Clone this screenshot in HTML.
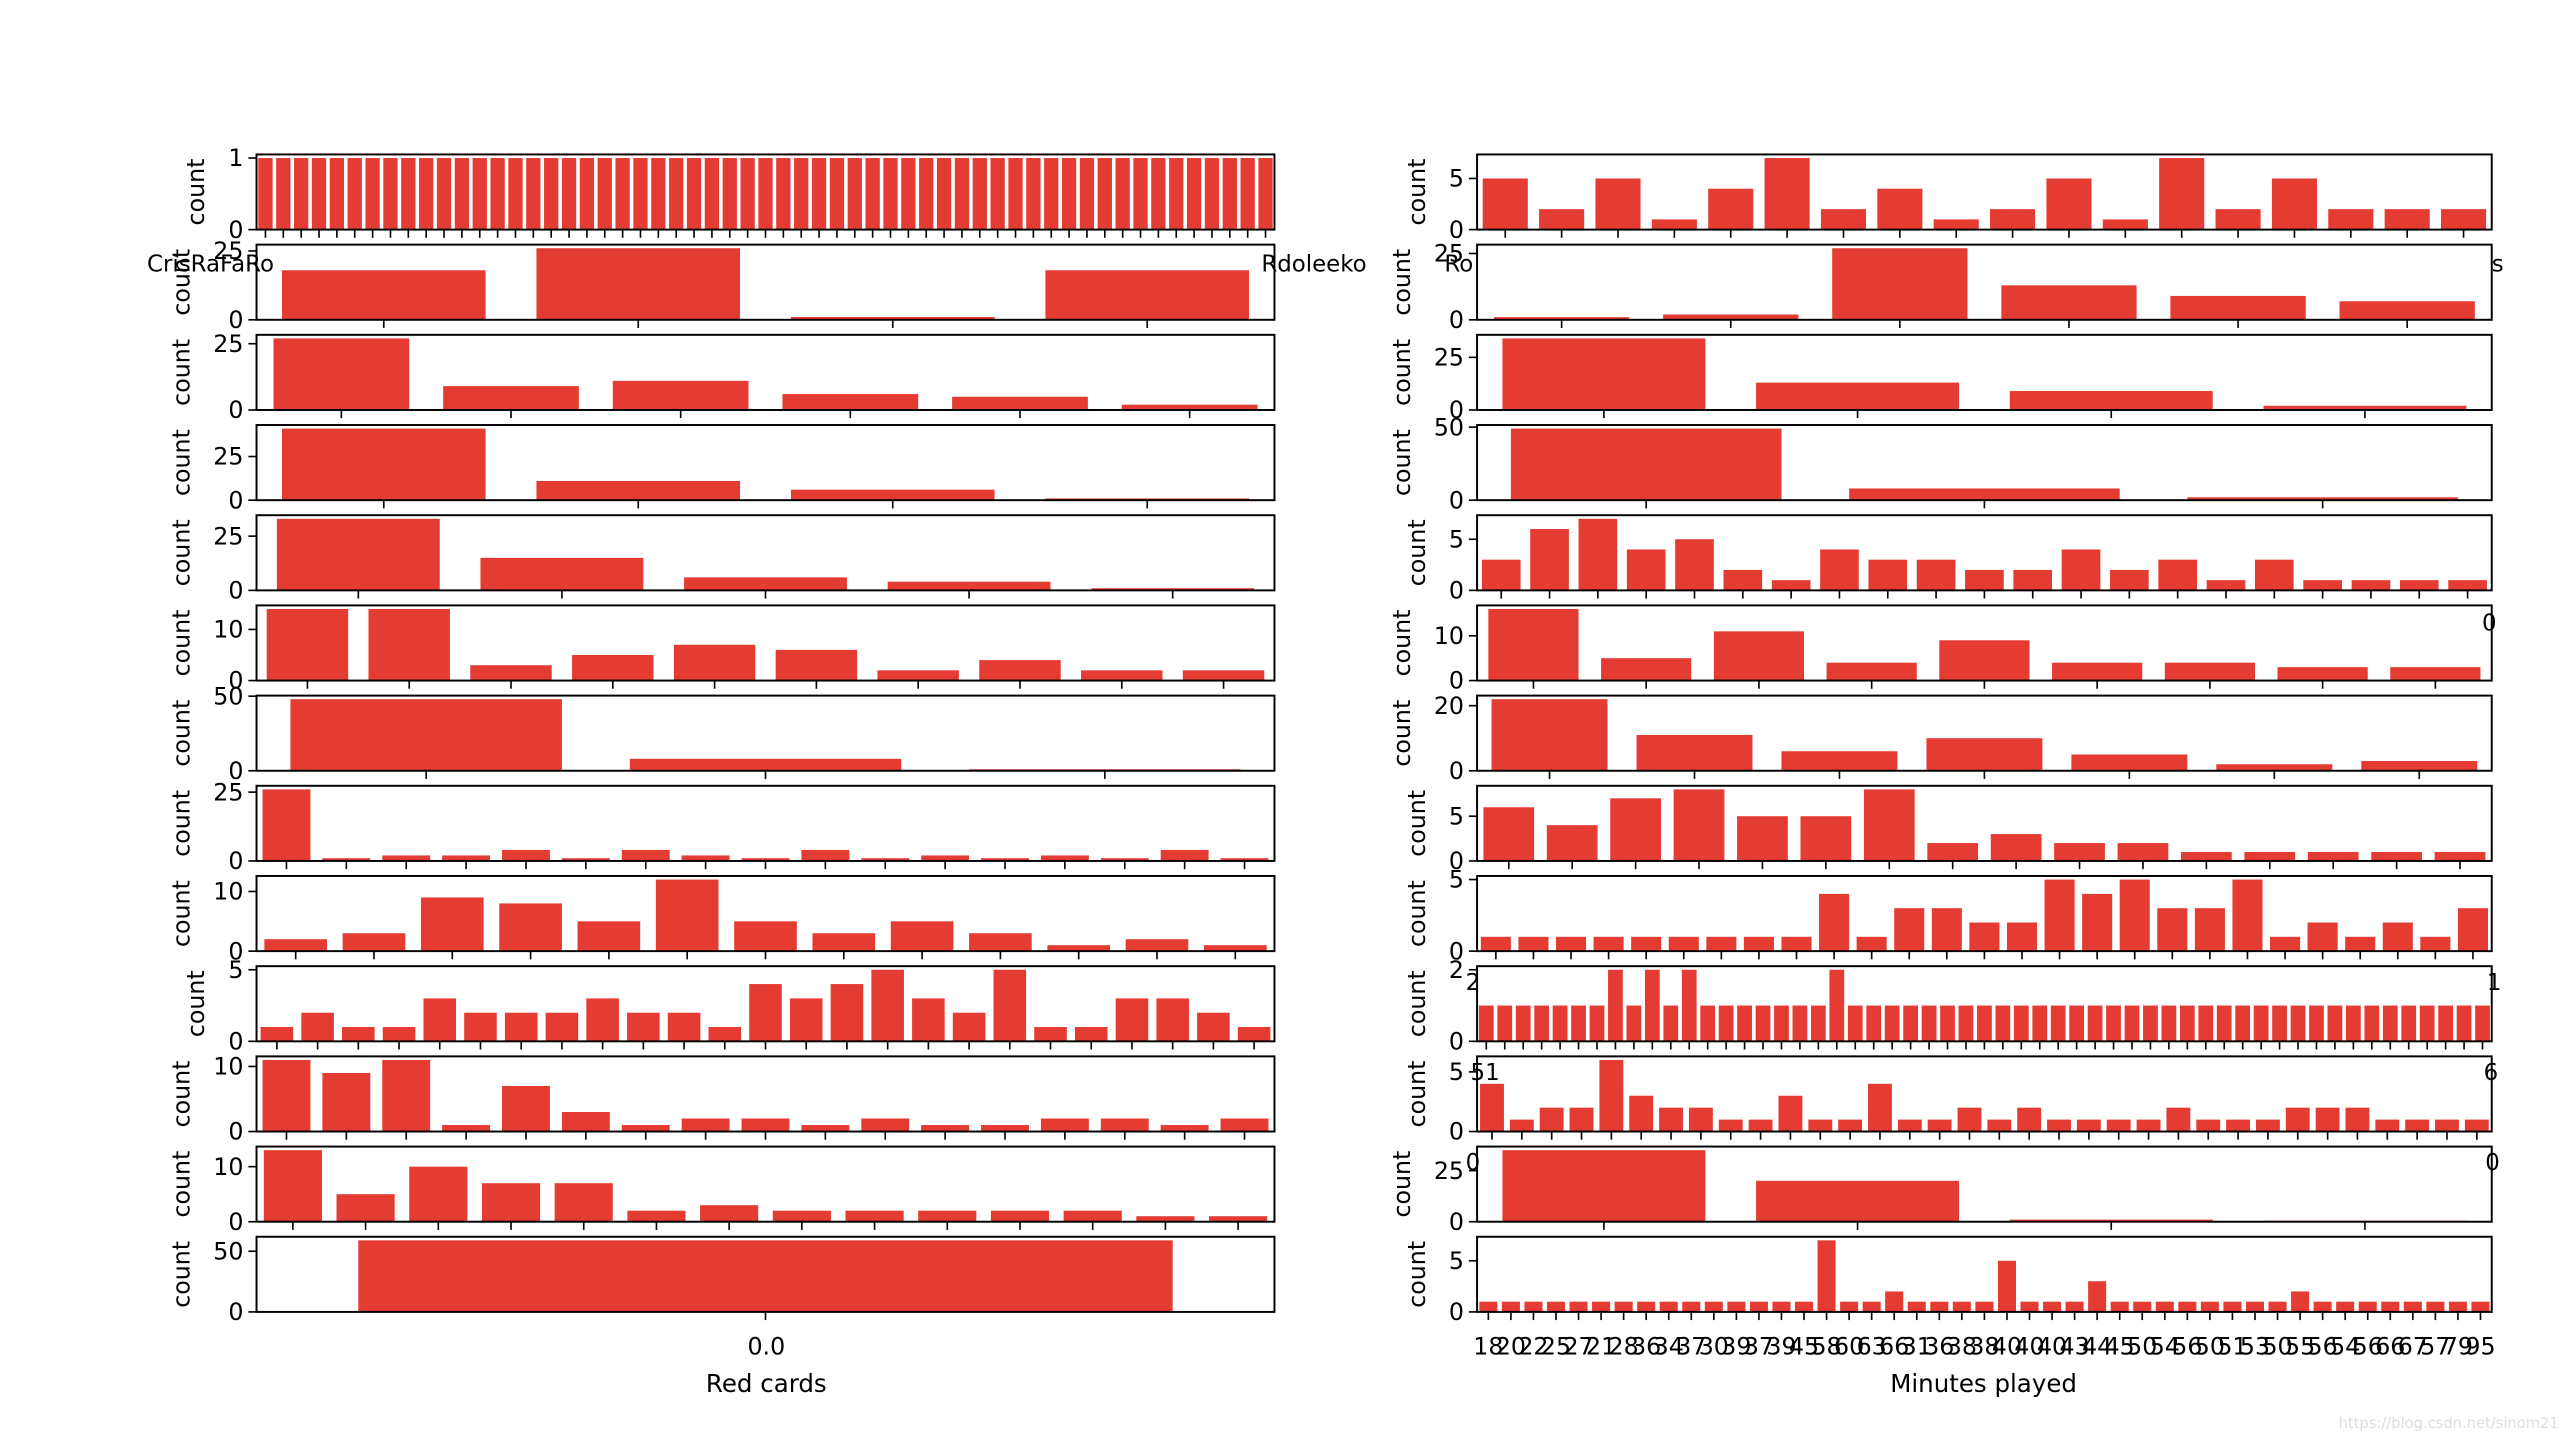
<!DOCTYPE html>
<html><head><meta charset="utf-8"><style>
html,body{margin:0;padding:0;background:#fff;}
svg{display:block;}
text{font-family:"DejaVu Sans","Liberation Sans",sans-serif;fill:#000;}
</style></head>
<body>
<svg id="fig" width="2562" height="1434" viewBox="0 0 1568 877.6" xmlns="http://www.w3.org/2000/svg"></svg>
<script>
const playerCounts = Array(57).fill(1);
const clubCounts = [18, 26, 1, 18];
const ageGroupCounts = [27, 9, 11, 6, 5, 2];
const positionCounts = [41, 11, 6, 1];
const goalsCounts = [33, 15, 6, 4, 1];
const assistsCounts = [14, 14, 3, 5, 7, 6, 2, 4, 2, 2];
const yellowCounts = [48, 8, 1];
const shotsCounts = [26, 1, 2, 2, 4, 1, 4, 2, 1, 4, 1, 2, 1, 2, 1, 4, 1];
const passesCounts = [2, 3, 9, 8, 5, 12, 5, 3, 5, 3, 1, 2, 1];
const dribblesCounts = [1, 2, 1, 1, 3, 2, 2, 2, 3, 2, 2, 1, 4, 3, 4, 5, 3, 2, 5, 1, 1, 3, 3, 2, 1];
const tacklesCounts = [11, 9, 11, 1, 7, 3, 1, 2, 2, 1, 2, 1, 1, 2, 2, 1, 2];
const foulsCounts = [13, 5, 10, 7, 7, 2, 3, 2, 2, 2, 2, 2, 1, 1];
const redCardCounts = [59];

const nationCounts = [5, 2, 5, 1, 4, 7, 2, 4, 1, 2, 5, 1, 7, 2, 5, 2, 2, 2];
const footCounts = [1, 2, 27, 13, 9, 7];
const heightCounts = [34, 13, 9, 2];
const weightCounts = [49, 8, 2];
const appsCounts = [3, 6, 7, 4, 5, 2, 1, 4, 3, 3, 2, 2, 4, 2, 3, 1, 3, 1, 1, 1, 1];
const startsCounts = [16, 5, 11, 4, 9, 4, 4, 3, 3];
const subsCounts = [22, 11, 6, 10, 5, 2, 3];
const keyPassCounts = [6, 4, 7, 8, 5, 5, 8, 2, 3, 2, 2, 1, 1, 1, 1, 1];
const accuracyCounts = [1, 1, 1, 1, 1, 1, 1, 1, 1, 4, 1, 3, 3, 2, 2, 5, 4, 5, 3, 3, 5, 1, 2, 1, 2, 1, 3];
const ratingCounts = [1,1,1,1,1,1,1,2,1,2,1,2,1,1,1,1,1,1,1,2,1,1,1,1,1,1,1,1,1,1,1,1,1,1,1,1,1,1,1,1,1,1,1,1,1,1,1,1,1,1,1,1,1,1,1];
const aerialCounts = [4, 1, 2, 2, 6, 3, 2, 2, 1, 1, 3, 1, 1, 4, 1, 1, 2, 1, 2, 1, 1, 1, 1, 2, 1, 1, 1, 2, 2, 2, 1, 1, 1, 1];
const motmCounts = [35, 20, 1, 0.5];
const minutesCounts = [1,1,1,1,1,1,1,1,1,1,1,1,1,1,1,7,1,1,2,1,1,1,1,5,1,1,1,3,1,1,1,1,1,1,1,1,2,1,1,1,1,1,1,1,1];

const leftTicks = [[0,1],[0,25],[0,25],[0,25],[0,25],[0,10],[0,50],[0,25],[0,10],[0,5],[0,10],[0,10],[0,50]];
const rightTicks = [[0,5],[0,25],[0,25],[0,50],[0,5],[0,10],[0,20],[0,5],[0,5],[0,2],[0,5],[0,25],[0,5]];
const minuteLabels = ["18","20","22","25","27","21","28","36","34","37","30","39","37","39","45","58","60","63","66","31","36","38","38","40","40","40","43","44","45","50","54","56","50","51","53","50","55","56","54","56","66","67","57","79","95"];

const leftSeries = [playerCounts, clubCounts, ageGroupCounts, positionCounts, goalsCounts, assistsCounts, yellowCounts, shotsCounts, passesCounts, dribblesCounts, tacklesCounts, foulsCounts, redCardCounts];
const rightSeries = [nationCounts, footCounts, heightCounts, weightCounts, appsCounts, startsCounts, subsCounts, keyPassCounts, accuracyCounts, ratingCounts, aerialCounts, motmCounts, minutesCounts];

const NS = "http://www.w3.org/2000/svg";
const svg = document.getElementById('fig');
function mk(tag, attrs, parent) {
  const e = document.createElementNS(NS, tag);
  for (const k in attrs) e.setAttribute(k, attrs[k]);
  (parent || svg).appendChild(e);
  return e;
}
const H = 46, TOP0 = 94.5, STEP = 55.2;

function drawPanel(col, row, values, ticks, x0, x1) {
  const y0 = TOP0 + row * STEP, yb = y0 + H;
  const g = mk('g', {});
  
  
  const n = values.length;
  const ymax = Math.max(...values) * 1.05;
  const xs = v => x0 + (v + 0.5) / n * (x1 - x0);
  const ys = v => yb - v / ymax * H;
  values.forEach((v, i) => {
    const r = mk('rect', {x: xs(i - 0.4), y: ys(v), width: xs(i + 0.4) - xs(i - 0.4), height: yb - ys(v), fill: '#e43b33'}, g);
    
    
    mk('line', {x1: xs(i), x2: xs(i), y1: yb, y2: yb + 5, stroke: '#000', 'stroke-width': 1}, g);
  });
  let maxw = 0;
  ticks.forEach(t => {
    const y = ys(t);
    mk('line', {x1: x0 - 5, x2: x0, y1: y, y2: y, stroke: '#000', 'stroke-width': 1}, g);
    const tx = mk('text', {x: x0 - 8, y: y + 5, 'font-size': 14.5, 'text-anchor': 'end'}, g);
    tx.textContent = String(t);
    
    
    maxw = Math.max(maxw, String(t).length * 9);
  });
  const lx = x0 - 8 - maxw - 15;
  const yl = mk('text', {x: 0, y: 0, 'font-size': 14.5, 'text-anchor': 'middle', transform: 'translate(' + lx + ',' + (y0 + H / 2) + ') rotate(-90)'}, g);
  yl.textContent = 'count';
  
  
  mk('rect', {x: x0, y: y0, width: x1 - x0, height: H, fill: 'none', stroke: '#000', 'stroke-width': 1.2}, g);
  return {xs, yb};
}

const L1 = mk('text', {x: 90, y: 166, 'font-size': 14}); L1.textContent = 'CrisRaFaRo';
 
const L2 = mk('text', {x: 772, y: 166, 'font-size': 14}); L2.textContent = 'Rdoleeko';
 
const R1 = mk('text', {x: 884, y: 166, 'font-size': 14}); R1.textContent = 'Ro';
 
const R2 = mk('text', {x: 1525, y: 166, 'font-size': 14}); R2.textContent = 's';
 
[[1519, 386, '0'], [1522, 606, '1'], [1520, 661, '6'], [1521, 716, '0'], [897, 606, '2'], [900, 661, '51'], [897, 716, '0']].forEach(p => {
  const t = mk('text', {x: p[0], y: p[1], 'font-size': 14}); t.textContent = p[2];
   
});

for (let r = 0; r < 13; r++) {
  drawPanel('left', r, leftSeries[r], leftTicks[r], 157, 780);
  const rp = drawPanel('right', r, rightSeries[r], rightTicks[r], 904, 1525);
  if (r === 12) {
    minuteLabels.forEach((lab, i) => {
      const t = mk('text', {x: rp.xs(i), y: 829, 'font-size': 14.5, 'text-anchor': 'middle'});
      t.textContent = lab;
      
      
    });
  }
}
const z = mk('text', {x: 469, y: 829, 'font-size': 14.5, 'text-anchor': 'middle'}); z.textContent = '0.0';
 
const xl = mk('text', {x: 469, y: 852, 'font-size': 15, 'text-anchor': 'middle'}); xl.textContent = 'Red cards';
 
const xr = mk('text', {x: 1214, y: 852, 'font-size': 15, 'text-anchor': 'middle'}); xr.textContent = 'Minutes played';
 
const wm = mk('text', {x: 1566, y: 874, 'font-size': 9, 'text-anchor': 'end', style: 'fill:#ddd'}); wm.textContent = 'https://blog.csdn.net/sinom21';
 
</script>
</body></html>
